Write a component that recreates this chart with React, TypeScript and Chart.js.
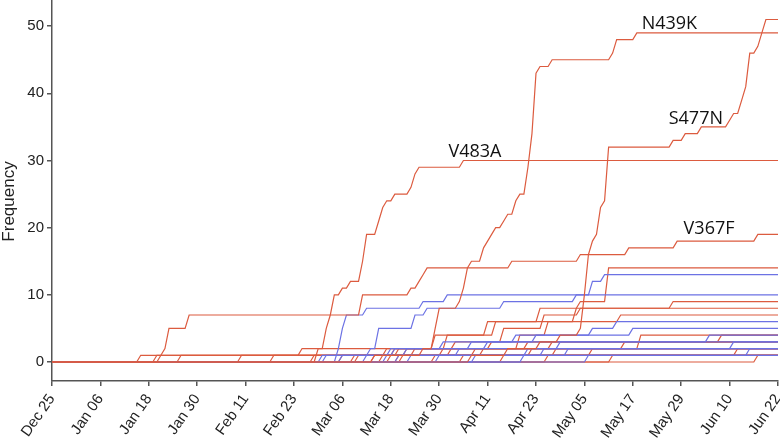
import React, { useEffect, useRef } from "react";
import { Chart, registerables } from "chart.js";

Chart.register(...registerables);

// x axis: days since Dec 25 (2019); ticks every 12 days
const tickLabels = ["Dec 25", "Jan 06", "Jan 18", "Jan 30", "Feb 11", "Feb 23", "Mar 06", "Mar 18", "Mar 30", "Apr 11", "Apr 23", "May 05", "May 17", "May 29", "Jun 10", "Jun 22"];
const tickStepDays = 12;
const lastDay = 180;
const yTicks = [0, 10, 20, 30, 40, 50];
const yMin = -2.83;
const yMax = 53.9;
const yTitle = "Frequency";

// Each series: [day, cumulative frequency reached on that day]
const S477N = [[104, 1], [113, 2], [121, 3], [126, 4], [131, 5], [132, 10], [133, 16], [134, 18], [135, 19], [136, 23], [137, 24], [138, 32], [154, 33], [157, 34], [161, 35], [168, 36], [169, 37], [171, 39], [172, 41], [173, 46], [175, 47], [176, 49], [177, 51]];
const N439K = [[80, 1], [92, 2], [95, 5], [96, 8], [101, 9], [102, 11], [103, 14], [104, 15], [107, 17], [108, 18], [109, 19], [110, 20], [112, 21], [113, 22], [115, 24], [116, 25], [118, 29], [119, 34], [120, 43], [121, 44], [124, 45], [139, 46], [140, 48], [145, 49]];
const V483A = [[66, 2], [68, 5], [69, 7], [70, 10], [72, 11], [74, 12], [77, 15], [78, 19], [81, 21], [82, 23], [83, 24], [85, 25], [89, 26], [90, 28], [91, 29], [102, 30]];
const V367F = [[27, 1], [28, 2], [29, 5], [34, 7], [77, 10], [89, 11], [91, 12], [92, 13], [93, 14], [114, 15], [131, 16], [143, 17], [155, 18], [175, 19]];
const red14 = [[75, 1], [85, 2], [98, 4], [110, 6], [130, 8], [131, 9], [138, 14]];
const red9 = [[80, 1], [86, 2], [95, 4], [108, 6], [121, 8], [154, 9]];
const red8 = [[72, 1], [88, 2], [100, 3], [112, 5], [122, 7], [131, 8]];
const red7 = [[86, 1], [99, 2], [116, 4], [123, 6], [141, 7]];
const red4a = [[87, 1], [105, 2], [124, 3], [166, 4]];
const red4b = [[95, 1], [125, 2], [146, 4]];
const red3a = [[32, 1], [83, 2], [118, 3]];
const red3b = [[65, 1], [90, 2], [109, 3]];
const red3c = [[76, 1], [119, 2], [142, 3]];
const red2a = [[22, 1], [62, 2]];
const red2b = [[47, 1], [97, 2]];
const red2c = [[102, 1], [134, 2]];
const red2d = [[123, 1], [170, 2]];
const red2e = [[82, 1], [107, 2]];
const red1a = [[26, 1]];
const red1b = [[55, 1]];
const red1c = [[175, 1]];
const red1d = [[112, 1]];
const red1e = [[84, 1]];
const red1f = [[139, 1]];

const blue10 = [[71, 2], [72, 5], [73, 7], [78, 8], [92, 9], [98, 10]];
const blue13 = [[78, 1], [79, 2], [81, 5], [90, 7], [93, 8], [112, 9], [130, 10], [134, 12], [137, 13]];
const blue6 = [[68, 1], [85, 2], [97, 3], [115, 4], [134, 5], [140, 6]];
const blue5 = [[72, 1], [88, 2], [104, 3], [120, 4], [144, 5]];
const blue4 = [[83, 1], [101, 2], [126, 3], [163, 4]];
const blue3a = [[67, 1], [84, 2], [108, 3]];
const blue3b = [[96, 1], [122, 2], [169, 3]];
const blue2a = [[86, 1], [118, 2]];
const blue2b = [[105, 1], [128, 2]];
const blue2c = [[117, 1], [173, 2]];
const blue1a = [[89, 1]];
const blue1b = [[133, 1]];

const redLines = [S477N, N439K, V483A, V367F, red14, red9, red8, red7, red4a, red4b, red3a, red3b, red3c, red2a, red2b, red2c, red2d, red2e, red1a, red1b, red1c, red1d, red1e, red1f];
const blueLines = [blue10, blue13, blue6, blue5, blue4, blue3a, blue3b, blue2a, blue2b, blue2c, blue1a, blue1b];

// annotation text anchored in data units (left edge, baseline)
const annotationText = ["N439K", "S477N", "V483A", "V367F"];
const annotationDay = [146.2, 152.9, 98.3, 156.6];
const annotationValue = [49.6, 35.4, 30.5, 19.0];

const RED = "#dc5b3f";
const BLUE = "#6c72e4";

function toPoints(steps: number[][]) {
  const pts: { x: number; y: number }[] = [{ x: 0, y: 0 }];
  let prev = 0;
  let last = 0;
  for (const [d, v] of steps) {
    if (d - 1 > last) pts.push({ x: d - 1, y: prev });
    pts.push({ x: d, y: v });
    prev = v;
    last = d;
  }
  pts.push({ x: lastDay, y: prev });
  return pts;
}

const labelPlugin = {
  id: "mutationLabels",
  afterDatasetsDraw(chart: any) {
    const { ctx, scales } = chart;
    ctx.save();
    ctx.font = '18px "Open Sans"';
    ctx.fillStyle = "#111";
    ctx.textBaseline = "alphabetic";
    ctx.textAlign = "left";
    annotationText.forEach((t, i) => {
      ctx.fillText(t, scales.x.getPixelForValue(annotationDay[i]), scales.y.getPixelForValue(annotationValue[i]));
    });
    ctx.restore();
    // y-axis title, placed a little below the axis centre as in the reference
    ctx.save();
    ctx.font = '17px "Liberation Sans", Arial, sans-serif';
    ctx.fillStyle = "#222";
    ctx.textAlign = "center";
    ctx.textBaseline = "middle";
    ctx.translate(9, scales.y.getPixelForValue(23.9));
    ctx.rotate(-Math.PI / 2);
    ctx.fillText(yTitle, 0, 0);
    ctx.restore();
  },
};

export default function App() {
  const ref = useRef<HTMLCanvasElement>(null);
  useEffect(() => {
    document.body.style.margin = "0";
    const mk = (steps: number[][], color: string) => ({
      data: toPoints(steps),
      borderColor: color,
      backgroundColor: color,
      borderWidth: 1.2,
      pointRadius: 0,
      tension: 0,
      fill: false,
    });
    const datasets = [
      ...redLines.slice(0, 4).map((s) => mk(s, RED)),
      ...blueLines.map((s) => mk(s, BLUE)),
      ...redLines.slice(4).map((s) => mk(s, RED)),
    ];
    const tickFont = { family: '"Liberation Sans", Arial, sans-serif', size: 15 };
    const chart = new Chart(ref.current!, {
      type: "line",
      data: { datasets },
      plugins: [labelPlugin],
      options: {
        animation: false,
        responsive: false,
        parsing: false as any,
        layout: { padding: { left: 0, right: 2, top: 0, bottom: 0 } },
        plugins: { legend: { display: false }, tooltip: { enabled: false } },
        scales: {
          x: {
            type: "linear",
            min: 0,
            max: lastDay,
            afterBuildTicks: (s: any) => {
              s.ticks = tickLabels.map((_, i) => ({ value: i * tickStepDays }));
            },
            afterFit: (s: any) => {
              s.height = 60;
              s.paddingLeft = 0;
              s.paddingRight = 0;
            },
            ticks: {
              autoSkip: false,
              minRotation: 55,
              maxRotation: 55,
              padding: 5,
              color: "#222",
              font: tickFont,
              callback: (v: any) => tickLabels[Math.round(Number(v) / tickStepDays)],
            },
            grid: { drawOnChartArea: false, drawTicks: true, tickLength: 5, color: "#555", lineWidth: 1.5 },
            border: { color: "#555", width: 1.5 },
          },
          y: {
            type: "linear",
            min: yMin,
            max: yMax,
            afterBuildTicks: (s: any) => {
              s.ticks = yTicks.map((v) => ({ value: v }));
            },
            afterFit: (s: any) => {
              s.width = 52;
              s.paddingTop = 0;
              s.paddingBottom = 0;
            },
            ticks: { padding: 3, color: "#222", font: tickFont },
            grid: { drawOnChartArea: false, drawTicks: true, tickLength: 5, color: "#555", lineWidth: 1.5 },
            border: { color: "#555", width: 1.5 },
            title: { display: false },
          },
        },
      },
    } as any);
    return () => chart.destroy();
  }, []);
  return (
    <div style={{ width: 780, height: 441 }}>
      <canvas ref={ref} width={780} height={441} style={{ display: "block" }} />
    </div>
  );
}
